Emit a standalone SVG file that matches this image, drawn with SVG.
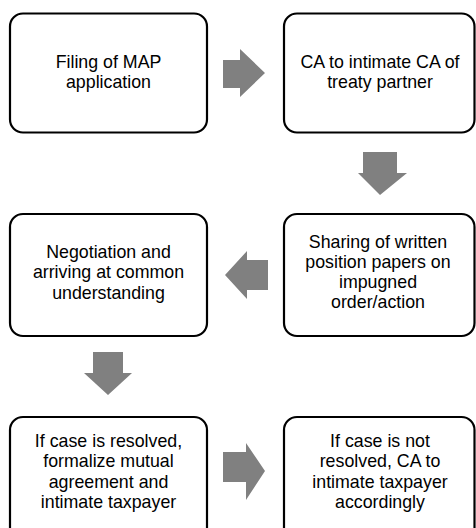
<svg xmlns="http://www.w3.org/2000/svg" width="476" height="528" viewBox="0 0 476 528">
<style>
.box{fill:#fff;stroke:#000;stroke-width:2.2}
.arr{fill:#808080}
text{font-family:"Liberation Sans",Arial,sans-serif;font-size:17.8px;fill:#000;text-anchor:middle}
</style>
<rect width="476" height="528" fill="#fff"/>
<g id="connectors">
<polygon class="arr" points="223,60 240,60 240,49 265,73 240,97 240,88 223,88"/>
<polygon class="arr" points="363,152 397,152 397,173 407,173 380,195 358,173 363,173"/>
<polygon class="arr" points="268,260 247,260 247,251 225,275 247,299 247,290 268,290"/>
<polygon class="arr" points="93,352 123,352 123,373 132,373 108,395 84,373 93,373"/>
<polygon class="arr" points="223,452 246,452 246,443 265,471 246,500 246,482 223,482"/>
</g>
<g id="n1">
<rect class="box" x="10" y="13.5" width="197" height="119" rx="13"/>
<text><tspan x="108.5" y="68">Filing of MAP</tspan><tspan x="108.5" y="88.2">application</tspan></text>
</g>
<g id="n2">
<rect class="box" x="284" y="13.5" width="190.5" height="119" rx="13"/>
<text><tspan x="380" y="68">CA to intimate CA of</tspan><tspan x="380" y="88.2">treaty partner</tspan></text>
</g>
<g id="n3">
<rect class="box" x="10" y="214" width="197" height="122" rx="13"/>
<text><tspan x="108.5" y="257.5">Negotiation and</tspan><tspan x="108.5" y="278">arriving at common</tspan><tspan x="108.5" y="298.5">understanding</tspan></text>
</g>
<g id="n4">
<rect class="box" x="284" y="214" width="190.5" height="122" rx="13"/>
<text><tspan x="378" y="247.5">Sharing of written</tspan><tspan x="378" y="268">position papers on</tspan><tspan x="378" y="288.2">impugned</tspan><tspan x="378" y="308.4">order/action</tspan></text>
</g>
<g id="n5">
<rect class="box" x="10" y="417" width="197" height="130" rx="13"/>
<text><tspan x="108.5" y="447">If case is resolved,</tspan><tspan x="108.5" y="467.2">formalize mutual</tspan><tspan x="108.5" y="487.5">agreement and</tspan><tspan x="108.5" y="507.7">intimate taxpayer</tspan></text>
</g>
<g id="n6">
<rect class="box" x="284" y="417" width="190.5" height="130" rx="13"/>
<text><tspan x="380" y="447">If case is not</tspan><tspan x="380" y="467.2">resolved, CA to</tspan><tspan x="380" y="487.5">intimate taxpayer</tspan><tspan x="380" y="507.7">accordingly</tspan></text>
</g>
</svg>
